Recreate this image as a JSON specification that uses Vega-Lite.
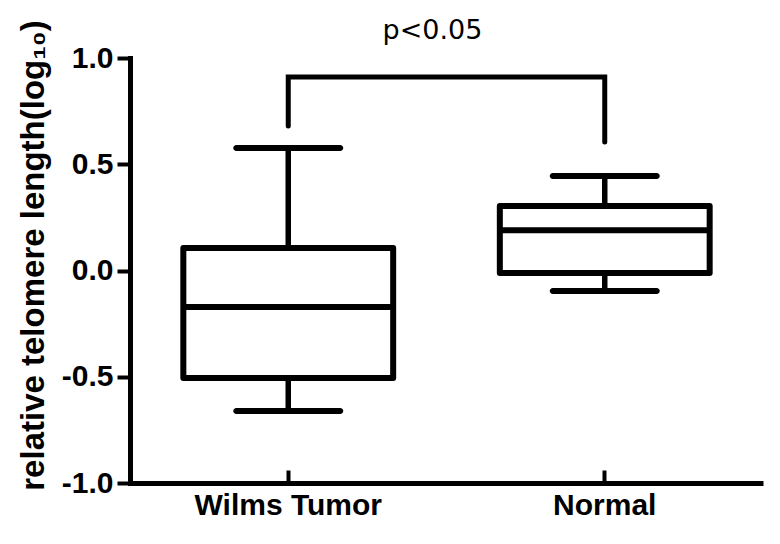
{
  "$schema": "https://vega.github.io/schema/vega-lite/v6.json",
  "width": 633,
  "height": 425,
  "autosize": {"type": "none"},
  "padding": {"left": 130, "top": 58, "right": 17, "bottom": 61},
  "background": "white",
  "title": {"text": "p<0.05", "font": "DejaVu Sans", "fontSize": 27, "fontWeight": "normal", "color": "black", "anchor": "middle", "frame": "group", "dx": -14, "baseline": "alphabetic", "offset": -46},
  "config": {
    "view": {"stroke": null},
    "axis": {"grid": false},
    "axisY": {
      "domainWidth": 5, "domainColor": "black", "domainCap": "square",
      "tickWidth": 4, "tickSize": 13, "tickColor": "black",
      "labelFont": "Liberation Sans", "labelFontSize": 30, "labelFontWeight": "bold", "labelColor": "black", "labelPadding": 4,
      "titleFont": "Liberation Sans", "titleFontSize": 33, "titleFontWeight": "bold", "titleColor": "black",
      "titleX": -97, "titleY": 197, "titleAngle": -90, "titleAlign": "center", "titleBaseline": "middle", "titleLimit": 0
    },
    "axisX": {
      "domainWidth": 5, "domainColor": "black",
      "tickWidth": 4, "tickSize": -13, "tickColor": "black",
      "labelFont": "Liberation Sans", "labelFontSize": 30, "labelFontWeight": "bold", "labelColor": "black", "labelPadding": 20, "labelAngle": 0, "labelLimit": 0
    }
  },
  "datasets": {
    "boxes": [
      {"group": "Wilms Tumor", "min": -0.661, "q1": -0.506, "median": -0.172, "q3": 0.106, "max": 0.576},
      {"group": "Normal", "min": -0.096, "q1": -0.012, "median": 0.19, "q3": 0.304, "max": 0.445}
    ],
    "bracket": [
      {"group": "Wilms Tumor", "value": 0.68, "order": 1},
      {"group": "Wilms Tumor", "value": 0.911, "order": 2},
      {"group": "Normal", "value": 0.911, "order": 3},
      {"group": "Normal", "value": 0.605, "order": 4}
    ]
  },
  "encoding": {
    "x": {"field": "group", "type": "nominal", "sort": ["Wilms Tumor", "Normal"], "scale": {"paddingInner": 0, "paddingOuter": 0}, "title": null}
  },
  "layer": [
    {
      "data": {"name": "boxes"},
      "mark": {"type": "rule", "color": "black", "strokeWidth": 5.5},
      "encoding": {
        "y": {"field": "max", "type": "quantitative", "scale": {"domain": [-1, 1], "nice": false}, "title": "relative telomere length(log₁₀)", "axis": {"values": [-1, -0.5, 0, 0.5, 1], "labelExpr": "datum.value < 0 ? '-' + format(-datum.value, '.1f') : format(datum.value, '.1f')"}},
        "y2": {"field": "q3"}
      }
    },
    {
      "data": {"name": "boxes"},
      "mark": {"type": "rule", "color": "black", "strokeWidth": 5.5},
      "encoding": {
        "y": {"field": "q1", "type": "quantitative", "title": "relative telomere length(log₁₀)"},
        "y2": {"field": "min"}
      }
    },
    {
      "data": {"name": "boxes"},
      "mark": {"type": "tick", "color": "black", "size": 110, "thickness": 6, "cornerRadius": 3, "opacity": 1},
      "encoding": {
        "y": {"field": "max", "type": "quantitative", "title": "relative telomere length(log₁₀)"}
      }
    },
    {
      "data": {"name": "boxes"},
      "mark": {"type": "tick", "color": "black", "size": 110, "thickness": 6, "cornerRadius": 3, "opacity": 1},
      "encoding": {
        "y": {"field": "min", "type": "quantitative", "title": "relative telomere length(log₁₀)"}
      }
    },
    {
      "data": {"name": "boxes"},
      "mark": {"type": "bar", "fill": "white", "stroke": "black", "strokeWidth": 6, "width": {"band": 0.663}, "strokeJoin": "round"},
      "encoding": {
        "y": {"field": "q1", "type": "quantitative", "title": "relative telomere length(log₁₀)"},
        "y2": {"field": "q3"}
      }
    },
    {
      "data": {"name": "boxes"},
      "mark": {"type": "tick", "color": "black", "size": 210, "thickness": 6, "opacity": 1},
      "encoding": {
        "y": {"field": "median", "type": "quantitative", "title": "relative telomere length(log₁₀)"}
      }
    },
    {
      "data": {"name": "bracket"},
      "mark": {"type": "line", "color": "black", "strokeWidth": 5, "strokeCap": "round", "strokeJoin": "miter"},
      "encoding": {
        "y": {"field": "value", "type": "quantitative", "title": "relative telomere length(log₁₀)"},
        "order": {"field": "order", "type": "quantitative"}
      }
    }
  ]
}
